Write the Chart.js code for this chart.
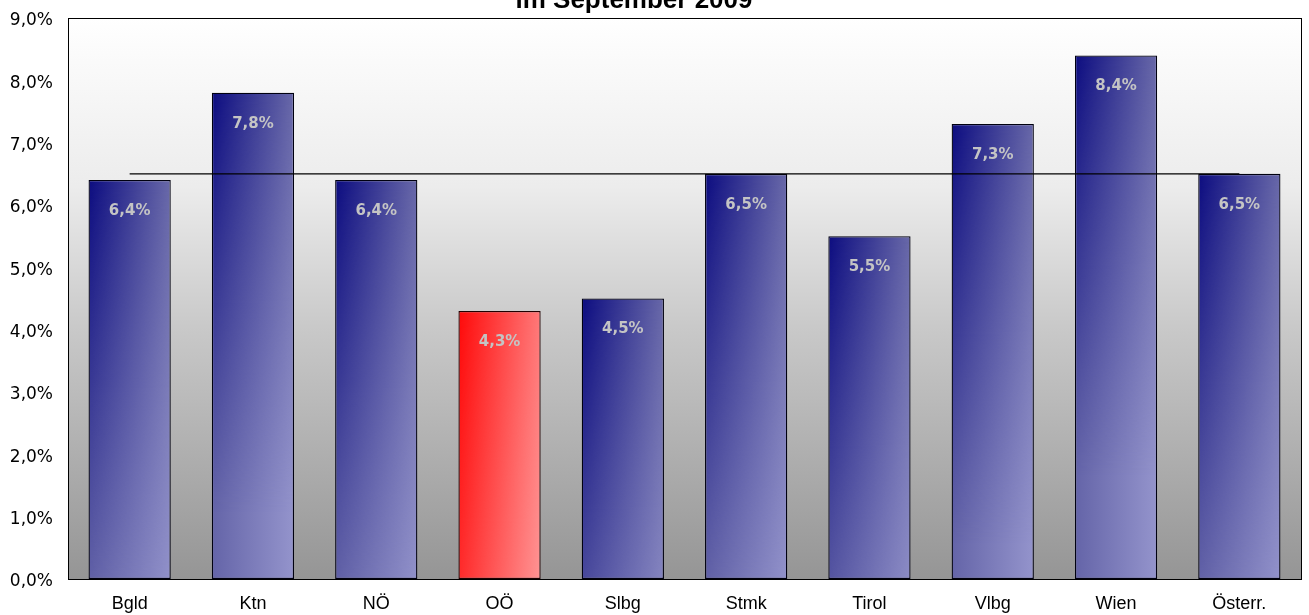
<!DOCTYPE html>
<html>
<head>
<meta charset="utf-8">
<script src="https://cdn.jsdelivr.net/npm/chart.js@4"></script>
<style>
	html, body { margin: 0; padding: 0; background: #ffffff; }
	#wrap { width: 1309px; height: 615px; position: relative; }
</style>
</head>
<body>
<div id="wrap"><canvas id="chart" width="1309" height="615"></canvas></div>
<script>
const regions = ['Bgld', 'Ktn', 'NÖ', 'OÖ', 'Slbg', 'Stmk', 'Tirol', 'Vlbg', 'Wien', 'Österr.'];
const rates = [6.4, 7.8, 6.4, 4.3, 4.5, 6.5, 5.5, 7.3, 8.4, 6.5];
const averageRate = [6.5, 6.5, 6.5, 6.5, 6.5, 6.5, 6.5, 6.5, 6.5, 6.5];
const highlightIndex = 3;
const chartTitle = 'im September 2009';

const fmt = v => v.toFixed(1).replace('.', ',') + '%';

// Bar fill: horizontal gradient that gets darker towards the top of each bar
const fillCache = {};
function barFill(ctx) {
	const chart = ctx.chart;
	const xs = chart.scales.x, ys = chart.scales.y;
	if (!chart.chartArea || !xs || !ys || ctx.type !== 'data') return '#6a6aaa';
	const i = ctx.dataIndex;
	const cx = xs.getPixelForValue(i);
	const w = (xs.width / regions.length) * 0.667;
	const left = cx - w / 2, right = cx + w / 2;
	const top = ys.getPixelForValue(rates[i]);
	const bottom = ys.getPixelForValue(0);
	const key = [i, Math.round(left), Math.round(top), chart.width, chart.height].join('_');
	if (fillCache[key]) return fillCache[key];

	const red = i === highlightIndex;
	const base = red ? ['#ff3c3c', '#ffa4a4'] : ['#6464a8', '#9494cc'];
	const topCol = red ? ['#ff0a0a', '#ff7878'] : ['#0c0c80', '#6868a8'];

	const off = document.createElement('canvas');
	off.width = chart.width; off.height = chart.height;
	const o = off.getContext('2d');
	let g = o.createLinearGradient(left, 0, right, 0);
	g.addColorStop(0, base[0]); g.addColorStop(1, base[1]);
	o.fillStyle = g;
	o.fillRect(left - 2, top - 2, w + 4, bottom - top + 4);

	const ov = document.createElement('canvas');
	ov.width = chart.width; ov.height = chart.height;
	const v = ov.getContext('2d');
	g = v.createLinearGradient(left, 0, right, 0);
	g.addColorStop(0, topCol[0]); g.addColorStop(1, topCol[1]);
	v.fillStyle = g;
	v.fillRect(left - 2, top - 2, w + 4, bottom - top + 4);
	v.globalCompositeOperation = 'destination-in';
	const m = v.createLinearGradient(0, top, 0, top + 420);
	m.addColorStop(0, 'rgba(0,0,0,1)');
	m.addColorStop(1, 'rgba(0,0,0,0)');
	v.fillStyle = m;
	v.fillRect(0, 0, ov.width, ov.height);

	o.drawImage(ov, 0, 0);
	const pat = chart.ctx.createPattern(off, 'no-repeat');
	fillCache[key] = pat;
	return pat;
}

// Gray plot background + frame
const plotBackground = {
	id: 'plotBackground',
	beforeDraw(chart) {
		const { ctx, chartArea: a } = chart;
		const g = ctx.createLinearGradient(0, a.top, 0, a.bottom);
		g.addColorStop(0, '#ffffff');
		g.addColorStop(0.3, '#ececec');
		g.addColorStop(0.55, '#c9c9c9');
		g.addColorStop(1, '#959595');
		ctx.save();
		ctx.fillStyle = g;
		ctx.fillRect(a.left, a.top, a.right - a.left, a.bottom - a.top);
		ctx.restore();
	},
	afterDraw(chart) {
		const { ctx, chartArea: a } = chart;
		ctx.save();
		ctx.strokeStyle = '#000000';
		ctx.lineWidth = 1;
		ctx.strokeRect(Math.round(a.left) + 0.5, Math.round(a.top) + 0.5,
			Math.round(a.right - a.left), Math.round(a.bottom - a.top));
		// clipped title at the very top
		ctx.fillStyle = '#000000';
		ctx.font = 'bold 26px "Liberation Sans", Arial, sans-serif';
		ctx.textAlign = 'center';
		ctx.textBaseline = 'alphabetic';
		ctx.fillText(chartTitle, 634, 8);
		ctx.restore();
	}
};

// value labels inside the bars
const barLabels = {
	id: 'barLabels',
	afterDatasetsDraw(chart) {
		const { ctx } = chart;
		const meta = chart.getDatasetMeta(1);
		ctx.save();
		ctx.fillStyle = '#c4c4c4';
		ctx.font = 'bold 15px "DejaVu Sans", Verdana, sans-serif';
		ctx.textAlign = 'center';
		ctx.textBaseline = 'middle';
		meta.data.forEach((bar, i) => {
			ctx.fillText(fmt(rates[i]), bar.x, bar.y + 31);
		});
		ctx.restore();
	}
};

new Chart(document.getElementById('chart'), {
	data: {
		labels: regions,
		datasets: [
			{
				type: 'line',
				label: 'Österreich',
				data: averageRate,
				borderColor: '#000000',
				borderWidth: 1.2,
				pointRadius: 0,
				fill: false,
				order: 0
			},
			{
				type: 'bar',
				label: 'Arbeitslosenquote',
				data: rates,
				backgroundColor: barFill,
				borderColor: rates.map((r, i) => i === highlightIndex ? '#200000' : '#000010'),
				borderWidth: 1.3,
				borderSkipped: false,
				barPercentage: 0.667,
				categoryPercentage: 1.0,
				order: 1
			}
		]
	},
	options: {
		responsive: false,
		animation: false,
		layout: { padding: { top: 18, right: 8, left: 0, bottom: 0 } },
		plugins: {
			legend: { display: false },
			title: { display: false },
			tooltip: { enabled: false }
		},
		scales: {
			x: {
				grid: { display: false, drawTicks: false },
				border: { display: false },
				ticks: {
					color: '#000000',
					padding: 14,
					font: { family: '"Liberation Sans", Arial, sans-serif', size: 18 },
					maxRotation: 0
				},
				afterFit(scale) { scale.height = 36; }
			},
			y: {
				min: 0,
				max: 9,
				grid: { display: false, drawTicks: false },
				border: { display: false },
				ticks: {
					stepSize: 1,
					color: '#000000',
					padding: 15,
					labelOffset: 3,
					font: { family: '"DejaVu Sans", Verdana, sans-serif', size: 17 },
					callback: v => fmt(v)
				},
				afterFit(scale) {
					scale.width = 68;
					scale.paddingTop = 0;
					scale.paddingBottom = 0;
				}
			}
		}
	},
	plugins: [plotBackground, barLabels]
});
</script>
</body>
</html>
